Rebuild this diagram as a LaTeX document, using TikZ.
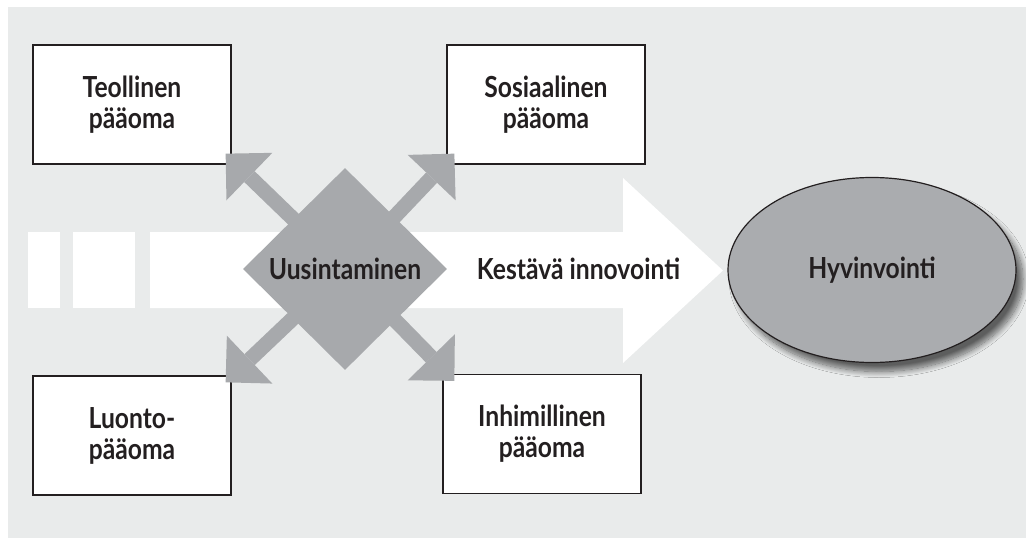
\documentclass[tikz,border=0pt]{standalone}
\usepackage{fontspec}
\setmainfont{Lato}[FakeStretch=0.85]
\usetikzlibrary{shapes.geometric,arrows.meta,shadows.blur}
\definecolor{bg}{RGB}{233,235,235}
\definecolor{midgray}{RGB}{167,169,172}
\definecolor{ink}{RGB}{35,31,32}
\definecolor{ovalfill}{RGB}{170,172,175}
\tikzset{
  labelfont/.style={font=\bfseries\fontsize{29}{31}\selectfont,text=ink},
  capbox/.style={labelfont,draw=ink,line width=1.3pt,fill=white,
    minimum width=198pt,minimum height=119pt,inner sep=0pt,align=center},
  renew/.style={labelfont,diamond,fill=midgray,minimum width=204pt,
    minimum height=202pt,inner sep=0pt,aspect=1},
  outflow/.style={midgray,line width=15pt,
    -{Triangle[length=33pt,width=66pt,line width=0pt]}},
  goal/.style={labelfont,ellipse,draw=ink,line width=1.2pt,fill=ovalfill,
    minimum width=288pt,minimum height=185pt,inner sep=0pt,
    blur shadow={shadow xshift=7pt,shadow yshift=-9pt,
      shadow blur radius=6pt,shadow blur steps=14,shadow opacity=60}}
}
\begin{document}
\begin{tikzpicture}[x=1pt,y=-1pt]
\useasboundingbox (0,0) rectangle (1026,538);
\fill[bg] (8,7) rectangle (1026,538);

% broad white flow arrow with its two leading blocks
\fill[white] (28,232) rectangle (60,308);
\fill[white] (73,232) rectangle (135,308);
\fill[white] (150,232) -- (623,232) -- (623,178) -- (723,270.5)
  -- (623,363) -- (623,308) -- (150,308) -- cycle;

% the four forms of capital
\node[capbox] (teo) at (132,104.5) {Teollinen\\pääoma};
\node[capbox] (sos) at (546,104.5) {Sosiaalinen\\pääoma};
\node[capbox] (luo) at (132,435.5) {Luonto-\\pääoma};
\node[capbox] (inh) at (542,434) {Inhimillinen\\pääoma};

% renewal hub and its four outward arrows
\coordinate (hub) at (345,269);
\draw[outflow] (hub) -- ([shift={(-6,-11)}]teo.south east);
\draw[outflow] (hub) -- ([shift={(8,-11)}]sos.south west);
\draw[outflow] (hub) -- ([shift={(-6,7)}]luo.north east);
\draw[outflow] (hub) -- ([shift={(12,7)}]inh.north west);
\node[renew] (uus) at (hub) {Uusintaminen};

\node[labelfont] (kes) at (578.5,269) {Kestävä innovointi};

% goal
\node[goal] (hyv) at (872,270) {Hyvinvointi};
\end{tikzpicture}
\end{document}
